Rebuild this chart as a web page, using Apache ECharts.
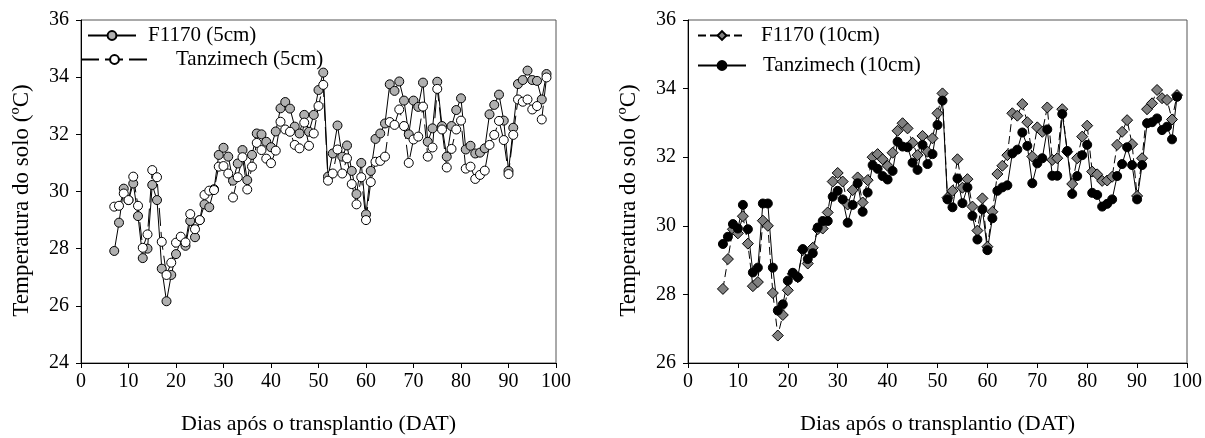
<!DOCTYPE html>
<html>
<head>
<meta charset="utf-8">
<script src="https://cdn.jsdelivr.net/npm/echarts@6/dist/echarts.min.js"></script>
<style>
html,body{margin:0;padding:0;background:#fff;}
#chart{width:1205px;height:438px;}
</style>
</head>
<body>
<div id="chart"></div>
<script>
const days = [7,8,9,10,11,12,13,14,15,16,17,18,19,20,21,22,23,24,25,26,27,28,29,30,31,32,33,34,35,36,37,38,39,40,41,42,43,44,45,46,47,48,49,50,51,52,53,54,55,56,57,58,59,60,61,62,63,64,65,66,67,68,69,70,71,72,73,74,75,76,77,78,79,80,81,82,83,84,85,86,87,88,89,90,91,92,93,94,95,96,97,98];

const f1170_5cm = [27.92,28.91,30.10,29.70,30.28,29.14,27.67,28.00,30.23,29.70,27.30,26.16,27.08,27.81,28.30,28.10,28.97,28.40,29.00,29.55,29.45,30.08,31.28,31.53,31.22,30.38,30.98,31.45,30.40,31.28,32.03,32.00,31.74,31.55,32.10,32.91,33.13,32.90,32.27,32.03,32.68,32.09,32.68,33.55,34.16,30.52,31.33,32.31,31.22,31.61,30.72,29.91,31.00,29.20,30.72,31.84,32.03,32.38,33.75,33.52,33.85,33.18,32.00,33.18,32.96,33.81,31.74,32.21,33.84,32.29,31.22,32.29,32.85,33.26,31.47,31.60,31.33,31.36,31.51,32.70,33.03,33.39,32.48,30.72,32.23,33.76,33.90,34.23,33.90,33.87,33.22,34.11];

const tanzimech_5cm = [29.47,29.50,29.93,29.70,30.52,29.50,28.03,28.50,30.75,30.50,28.24,27.08,27.51,28.21,28.42,28.22,29.21,28.68,29.00,29.88,30.03,30.05,30.87,30.89,30.63,29.79,30.50,31.20,30.07,30.87,31.70,31.45,31.15,30.99,31.43,32.44,32.17,32.09,31.63,31.51,32.41,31.60,32.03,32.99,33.73,30.38,30.63,31.47,30.63,31.16,30.26,29.55,30.50,29.00,30.33,31.04,31.07,31.22,32.43,32.33,32.87,32.29,31.00,31.82,31.92,32.97,31.22,31.54,33.59,32.17,30.84,31.49,32.17,32.48,30.80,30.87,30.44,30.58,30.73,31.63,31.98,32.47,31.80,30.61,31.98,33.22,33.14,33.22,32.87,32.99,32.52,33.99];

const f1170_10cm = [28.16,29.03,29.90,29.78,30.28,29.48,28.24,28.36,30.15,30.00,28.04,26.80,27.40,28.12,28.60,28.50,29.29,28.90,29.36,29.90,29.92,30.39,31.29,31.54,31.29,30.62,31.04,31.41,30.68,31.33,32.00,32.09,31.94,31.75,32.13,32.77,32.99,32.84,32.42,32.06,32.62,32.16,32.55,33.28,33.86,30.82,31.02,31.94,31.11,31.36,30.56,29.86,30.80,29.39,30.41,31.51,31.75,32.06,33.28,33.21,33.55,33.02,32.02,32.87,32.74,33.45,31.92,31.97,33.40,32.16,31.22,31.97,32.60,32.92,31.58,31.50,31.31,31.32,31.43,32.36,32.74,33.08,32.38,30.87,31.97,33.40,33.57,33.96,33.72,33.67,33.10,33.81];

const tanzimech_10cm = [29.47,29.68,30.05,29.92,30.61,29.90,28.64,28.78,30.65,30.65,28.78,27.53,27.71,28.40,28.63,28.50,29.32,29.03,29.20,29.95,30.14,30.14,30.85,31.02,30.77,30.09,30.61,31.24,30.41,30.97,31.77,31.66,31.45,31.35,31.60,32.45,32.31,32.29,31.84,31.63,32.36,31.80,32.09,32.94,33.65,30.77,30.54,31.38,30.66,31.12,30.29,29.60,30.48,29.29,30.22,31.02,31.12,31.18,32.11,32.22,32.72,32.33,31.24,31.82,31.97,32.81,31.46,31.46,33.26,32.18,30.93,31.45,32.06,32.36,30.96,30.90,30.56,30.64,30.77,31.45,31.80,32.29,31.77,30.77,31.77,32.99,33.02,33.13,32.79,32.89,32.52,33.76];

const xTitle = 'Dias após o transplantio (DAT)';
const yTitle = 'Temperatura do solo (ºC)';

const FONT = 'Liberation Serif';
function pairs(vals){ return days.map((d,i)=>[d, vals[i]]); }

function xAxis(gi){
  return {
    gridIndex: gi, type:'value', min:0, max:100, interval:10,
    name: xTitle, nameLocation:'middle', nameGap:50,
    nameTextStyle:{fontFamily:FONT,fontSize:22,color:'#000'},
    axisLine:{show:true,onZero:false,lineStyle:{color:'#000',width:1}},
    axisTick:{show:true,inside:false,length:5,lineStyle:{color:'#000'}},
    axisLabel:{fontFamily:FONT,fontSize:20,color:'#000',margin:9},
    splitLine:{show:false}
  };
}
function yAxis(gi,min){
  return {
    gridIndex: gi, type:'value', min:min, max:36, interval:2,
    name: yTitle, nameLocation:'middle', nameGap:48, nameRotate:90,
    nameTextStyle:{fontFamily:FONT,fontSize:23,color:'#000',padding:[0,18,0,0]},
    axisLine:{show:true,onZero:false,lineStyle:{color:'#000',width:1}},
    axisTick:{show:true,inside:false,length:5,lineStyle:{color:'#000'}},
    axisLabel:{fontFamily:FONT,fontSize:20,color:'#000',margin:12},
    splitLine:{show:false}
  };
}
function legend(name,left,top,w,pad){
  return {
    data:[name], left:left, top:top, orient:'vertical', padding:0,
    itemWidth:w, itemHeight:11, selectedMode:false,
    textStyle:{fontFamily:FONT,fontSize:21,color:'#000',padding:[0,0,0,pad]}
  };
}

const chart = echarts.init(document.getElementById('chart'), null, {renderer:'canvas'});
chart.setOption({
  backgroundColor:'#fff',
  animation:false,
  grid:[
    {left:81, top:20, width:475, height:343, outerBoundsMode:'none', containLabel:false, show:true, borderColor:'#555', borderWidth:1, backgroundColor:'transparent'},
    {left:688, top:20, width:499, height:343, outerBoundsMode:'none', containLabel:false, show:true, borderColor:'#555', borderWidth:1, backgroundColor:'transparent'}
  ],
  xAxis:[xAxis(0), xAxis(1)],
  yAxis:[yAxis(0,24), yAxis(1,26)],
  legend:[
    legend('F1170 (5cm)', 87, 25, 48, 7),
    legend('Tanzimech (5cm)', 80, 49, 67, 23),
    legend('F1170 (10cm)', 697, 25, 48, 10),
    legend('Tanzimech (10cm)', 697, 55, 48, 12)
  ],
  series:[
    {name:'F1170 (5cm)', type:'line', xAxisIndex:0, yAxisIndex:0, data:pairs(f1170_5cm),
     symbol:'circle', symbolSize:9, showAllSymbol:true,
     lineStyle:{color:'#000',width:1,type:'solid'},
     itemStyle:{color:'#b0b0b0',borderColor:'#000',borderWidth:1}},
    {name:'Tanzimech (5cm)', type:'line', xAxisIndex:0, yAxisIndex:0, data:pairs(tanzimech_5cm),
     symbol:'circle', symbolSize:9, showAllSymbol:true,
     lineStyle:{color:'#000',width:1,type:[18,6]},
     itemStyle:{color:'#fff',borderColor:'#000',borderWidth:1}},
    {name:'F1170 (10cm)', type:'line', xAxisIndex:1, yAxisIndex:1, data:pairs(f1170_10cm),
     symbol:'diamond', symbolSize:11, showAllSymbol:true,
     lineStyle:{color:'#000',width:1,type:[8,4]},
     itemStyle:{color:'#808080',borderColor:'#000',borderWidth:1}},
    {name:'Tanzimech (10cm)', type:'line', xAxisIndex:1, yAxisIndex:1, data:pairs(tanzimech_10cm),
     symbol:'circle', symbolSize:9, showAllSymbol:true,
     lineStyle:{color:'#000',width:1,type:'solid'},
     itemStyle:{color:'#000',borderColor:'#000',borderWidth:1}}
  ]
});
</script>
</body>
</html>
